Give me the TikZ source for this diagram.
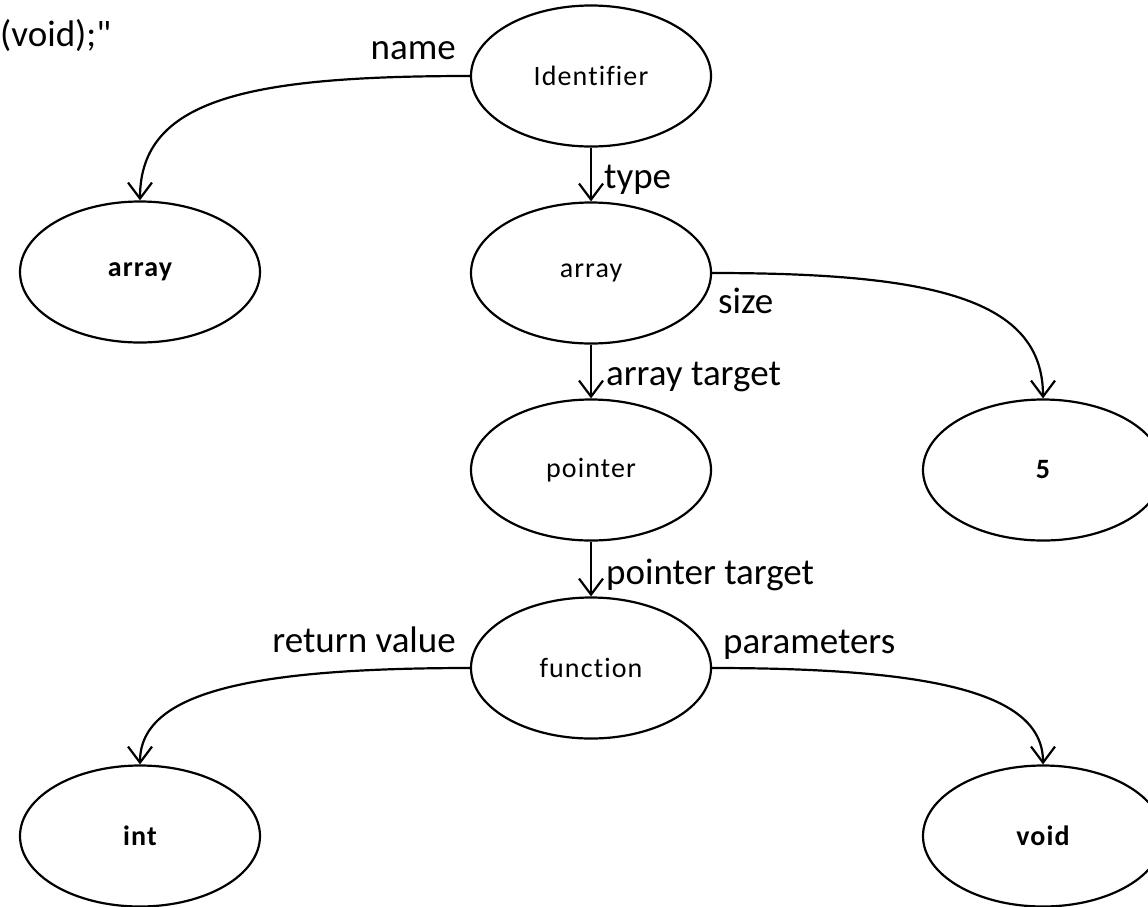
\documentclass[tikz,border=0pt]{standalone}
\usepackage{fontspec}
\setmainfont{Carlito}
\newfontfamily\nodefont[LetterSpace=4,Ligatures=CommonOff]{Carlito}
\newfontfamily\codefont[Ligatures=TeXOff]{Carlito}
\usetikzlibrary{shapes.geometric,arrows.meta}
\tikzset{
  ell/.style={ellipse, draw, line width=2.2pt, minimum width=240pt, minimum height=141pt, inner sep=0pt,
    font=\fontsize{28}{34}\selectfont\nodefont},
  bold ell/.style={ell, font=\fontsize{28}{34}\selectfont\nodefont\bfseries},
  conn/.style={line width=2.2pt, -{Straight Barb[length=16pt,width=24pt,line width=2.2pt]}},
  lbl/.style={inner sep=0pt, font=\fontsize{37}{44}\selectfont},
}
\begin{document}
\begin{tikzpicture}[x=1pt,y=-1pt]
\useasboundingbox (0,0) rectangle (1148,906);
\clip (0,0) rectangle (1148,906);
\node[lbl, anchor=base west, font=\fontsize{37}{44}\selectfont\codefont] (code) at (0,46) {(void);"};
\node[ell] (id) at (591,76) {Identifier};
\node[bold ell] (arrL) at (140,272) {array};
\node[ell] (arrM) at (591,273) {array};
\node[bold ell] (five) at (1043,470) {5};
\node[ell] (ptr) at (591,470) {pointer};
\node[ell] (fn) at (591,668) {function};
\node[bold ell] (int) at (140,836) {int};
\node[bold ell] (void) at (1043,836) {void};

\draw[conn] (id.west) .. controls +(-220,0) and +(0,-102) .. (arrL.north)
  node[lbl, pos=0, anchor=base east, xshift=-13pt, yshift=17pt] {name};
\draw[conn] (id.south) -- (arrM.north)
  node[lbl, midway, anchor=west, xshift=12pt, yshift=-5pt] {type};
\draw[conn] (arrM.east) .. controls +(220,0) and +(0,-100) .. (five.north)
  node[lbl, pos=0, anchor=base west, xshift=5pt, yshift=-40pt] {size};
\draw[conn] (arrM.south) -- (ptr.north)
  node[lbl, midway, anchor=west, xshift=14pt, yshift=-5pt] {array target};
\draw[conn] (ptr.south) -- (fn.north)
  node[lbl, midway, anchor=west, xshift=14pt, yshift=-6pt] {pointer target};
\draw[conn] (fn.west) .. controls +(-220,0) and +(0,-72) .. (int.north)
  node[lbl, pos=0, anchor=base east, xshift=-13pt, yshift=16pt] {return value};
\draw[conn] (fn.east) .. controls +(220,0) and +(0,-72) .. (void.north)
  node[lbl, pos=0, anchor=base west, xshift=10pt, yshift=15pt] {parameters};
\end{tikzpicture}
\end{document}
